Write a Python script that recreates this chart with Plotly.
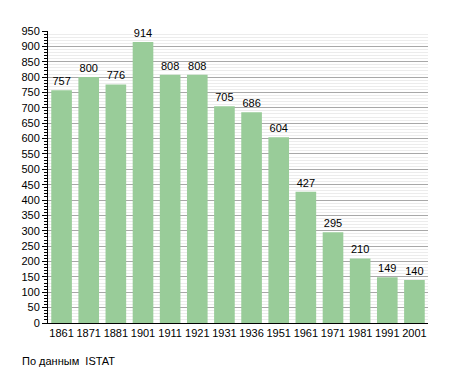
import plotly.graph_objects as go

years = ["1861", "1871", "1881", "1901", "1911", "1921", "1931", "1936", "1951", "1961", "1971", "1981", "1991", "2001"]
population = [757, 800, 776, 914, 808, 808, 705, 686, 604, 427, 295, 210, 149, 140]
y_ticks = list(range(0, 951, 50))

W, H = 455, 373
l, r, t, b = 48, 27, 31, 50
pw, ph = W - l - r, H - t - b

fig = go.Figure()
fig.add_trace(go.Bar(
    x=years, y=population,
    marker=dict(color="#99cc99", line=dict(width=0)),
    text=[str(v) for v in population],
    textposition="outside",
    textfont=dict(size=11, color="black", family="Liberation Sans, Arial, sans-serif"),
    cliponaxis=False,
))

fig.update_layout(
    width=W, height=H,
    margin=dict(l=l, r=r, t=t, b=b),
    plot_bgcolor="white", paper_bgcolor="white",
    bargap=0.24,
    showlegend=False,
    font=dict(family="Liberation Sans, Arial, sans-serif", size=11, color="black"),
    xaxis=dict(
        type="category", showgrid=False, showline=True, linecolor="black", linewidth=1,
        ticks="", tickfont=dict(size=11), range=[-0.5, len(years) - 0.5],
    ),
    yaxis=dict(
        range=[0, 950], tickvals=y_ticks, showgrid=True, gridcolor="#a8a8a8", gridwidth=1,
        showline=True, linecolor="black", linewidth=1, ticks="outside", ticklen=5,
        tickcolor="black", tickfont=dict(size=11), zeroline=False,
        minor=dict(dtick=10, showgrid=True, gridcolor="#ececec", ticks="outside", ticklen=3, tickcolor="black"),
    ),
    annotations=[dict(
        text="По данным  ISTAT", x=(20 - l) / pw, y=(H - b - 361) / ph,
        xref="paper", yref="paper",
        showarrow=False, xanchor="left", yanchor="middle", font=dict(size=11),
    )],
)

fig.write_html("out.html", config={"displayModeBar": False},
               post_script="document.body.style.margin='0';document.body.style.overflow='hidden';")
